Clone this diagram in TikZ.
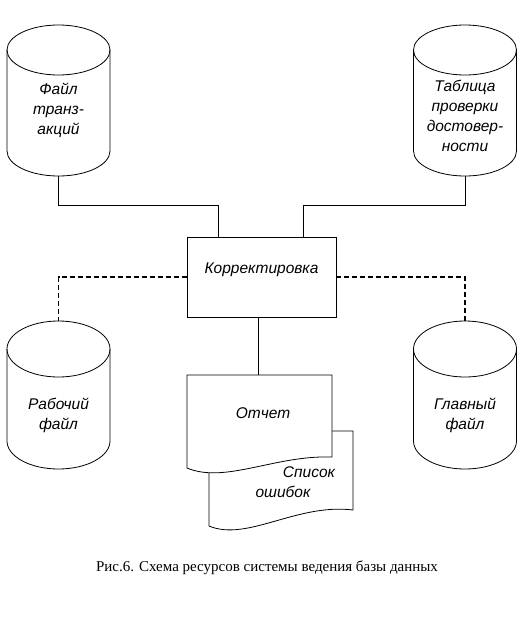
\documentclass[tikz,border=0pt]{standalone}
\usepackage{fontspec}
\setmainfont{Liberation Serif}
\newfontfamily\arialfont{Liberation Sans}
\usetikzlibrary{positioning,calc}
\tikzset{
  lbl/.style  ={font=\arialfont\itshape\fontsize{15.5}{20}\selectfont,align=center,inner sep=0pt},
  box/.style  ={draw,line width=0.8pt,fill=white,minimum width=149pt,minimum height=80pt,inner sep=0pt},
  line/.style ={line width=0.8pt},
  dashline/.style={line width=1.5pt,dash pattern=on 5pt off 3pt},
  capt/.style ={font=\fontsize{15}{18}\selectfont,inner sep=0pt},
}
% cylinder: name, centre x, top ellipse y, bottom arc y, y radius, text y, text
\newcommand\dbfile[7]{%
  \draw[line,fill=white] (#2-51.5,#3) -- (#2-51.5,#4)
    arc[start angle=180,end angle=360,x radius=51.5,y radius=#5] -- (#2+51.5,#3);
  \draw[line] (#2,#3) ellipse[x radius=51.5,y radius=#5];
  \coordinate (#1-top) at (#2,#3+#5);
  \coordinate (#1-bot) at (#2,#4-#5);
  \node[lbl] (#1) at (#2,#6) {#7};
}
\begin{document}
\begin{tikzpicture}[x=1pt,y=1pt]
  \useasboundingbox (0,0) rectangle (527,-629);
  % data stores
  \dbfile{trans}{58.5}{-50}{-151}{25}{-110}{Файл\\транз-\\акций}
  \dbfile{check}{465}{-50}{-151}{25}{-116}{\baselineskip=17.5pt Таблица\\проверки\\достовер-\\ности}
  \dbfile{work}{58.5}{-349}{-441}{28}{-415}{Рабочий\\файл}
  \dbfile{master}{465}{-349}{-441}{28}{-415}{Главный\\файл}
  % process
  \node[box] (kor) at (261.5,-277) {};
  \node[lbl] (korlbl) at ([yshift=7pt]kor.center) {Корректировка};
  % documents
  \draw[line,fill=white] (209,-431) -- (353,-431) -- (353,-510)
    .. controls (297,-503) and (247,-542) .. (209,-526) -- cycle;
  \draw[line,fill=white] (187,-375) -- (332,-375) -- (332,-457)
    .. controls (275,-455) and (225,-484) .. (187,-468) -- cycle;
  \coordinate (otch) at (258,-375);
  \node[lbl] (otchlbl) at (263,-413) {Отчет};
  \node[lbl] (errlbl) at (309,-472) {Список};
  \node[lbl] (errlbl2) at (283,-492) {ошибок};
  % connectors
  \draw[line] (trans-bot) -- ++(0,-29) -| ([xshift=-43.5pt]kor.north);
  \draw[line] (check-bot) -- ++(0,-29) -| ([xshift=41.5pt]kor.north);
  \draw[line] (otch) -- (otch |- kor.south);
  \draw[dashline] (kor.west) -| (work-top);
  \draw[dashline] (kor.east) -| (master-top);
  % caption
  \node[capt] (cap) at (267,-568) {Рис.6. Схема ресурсов системы ведения базы данных};
\end{tikzpicture}
\end{document}
